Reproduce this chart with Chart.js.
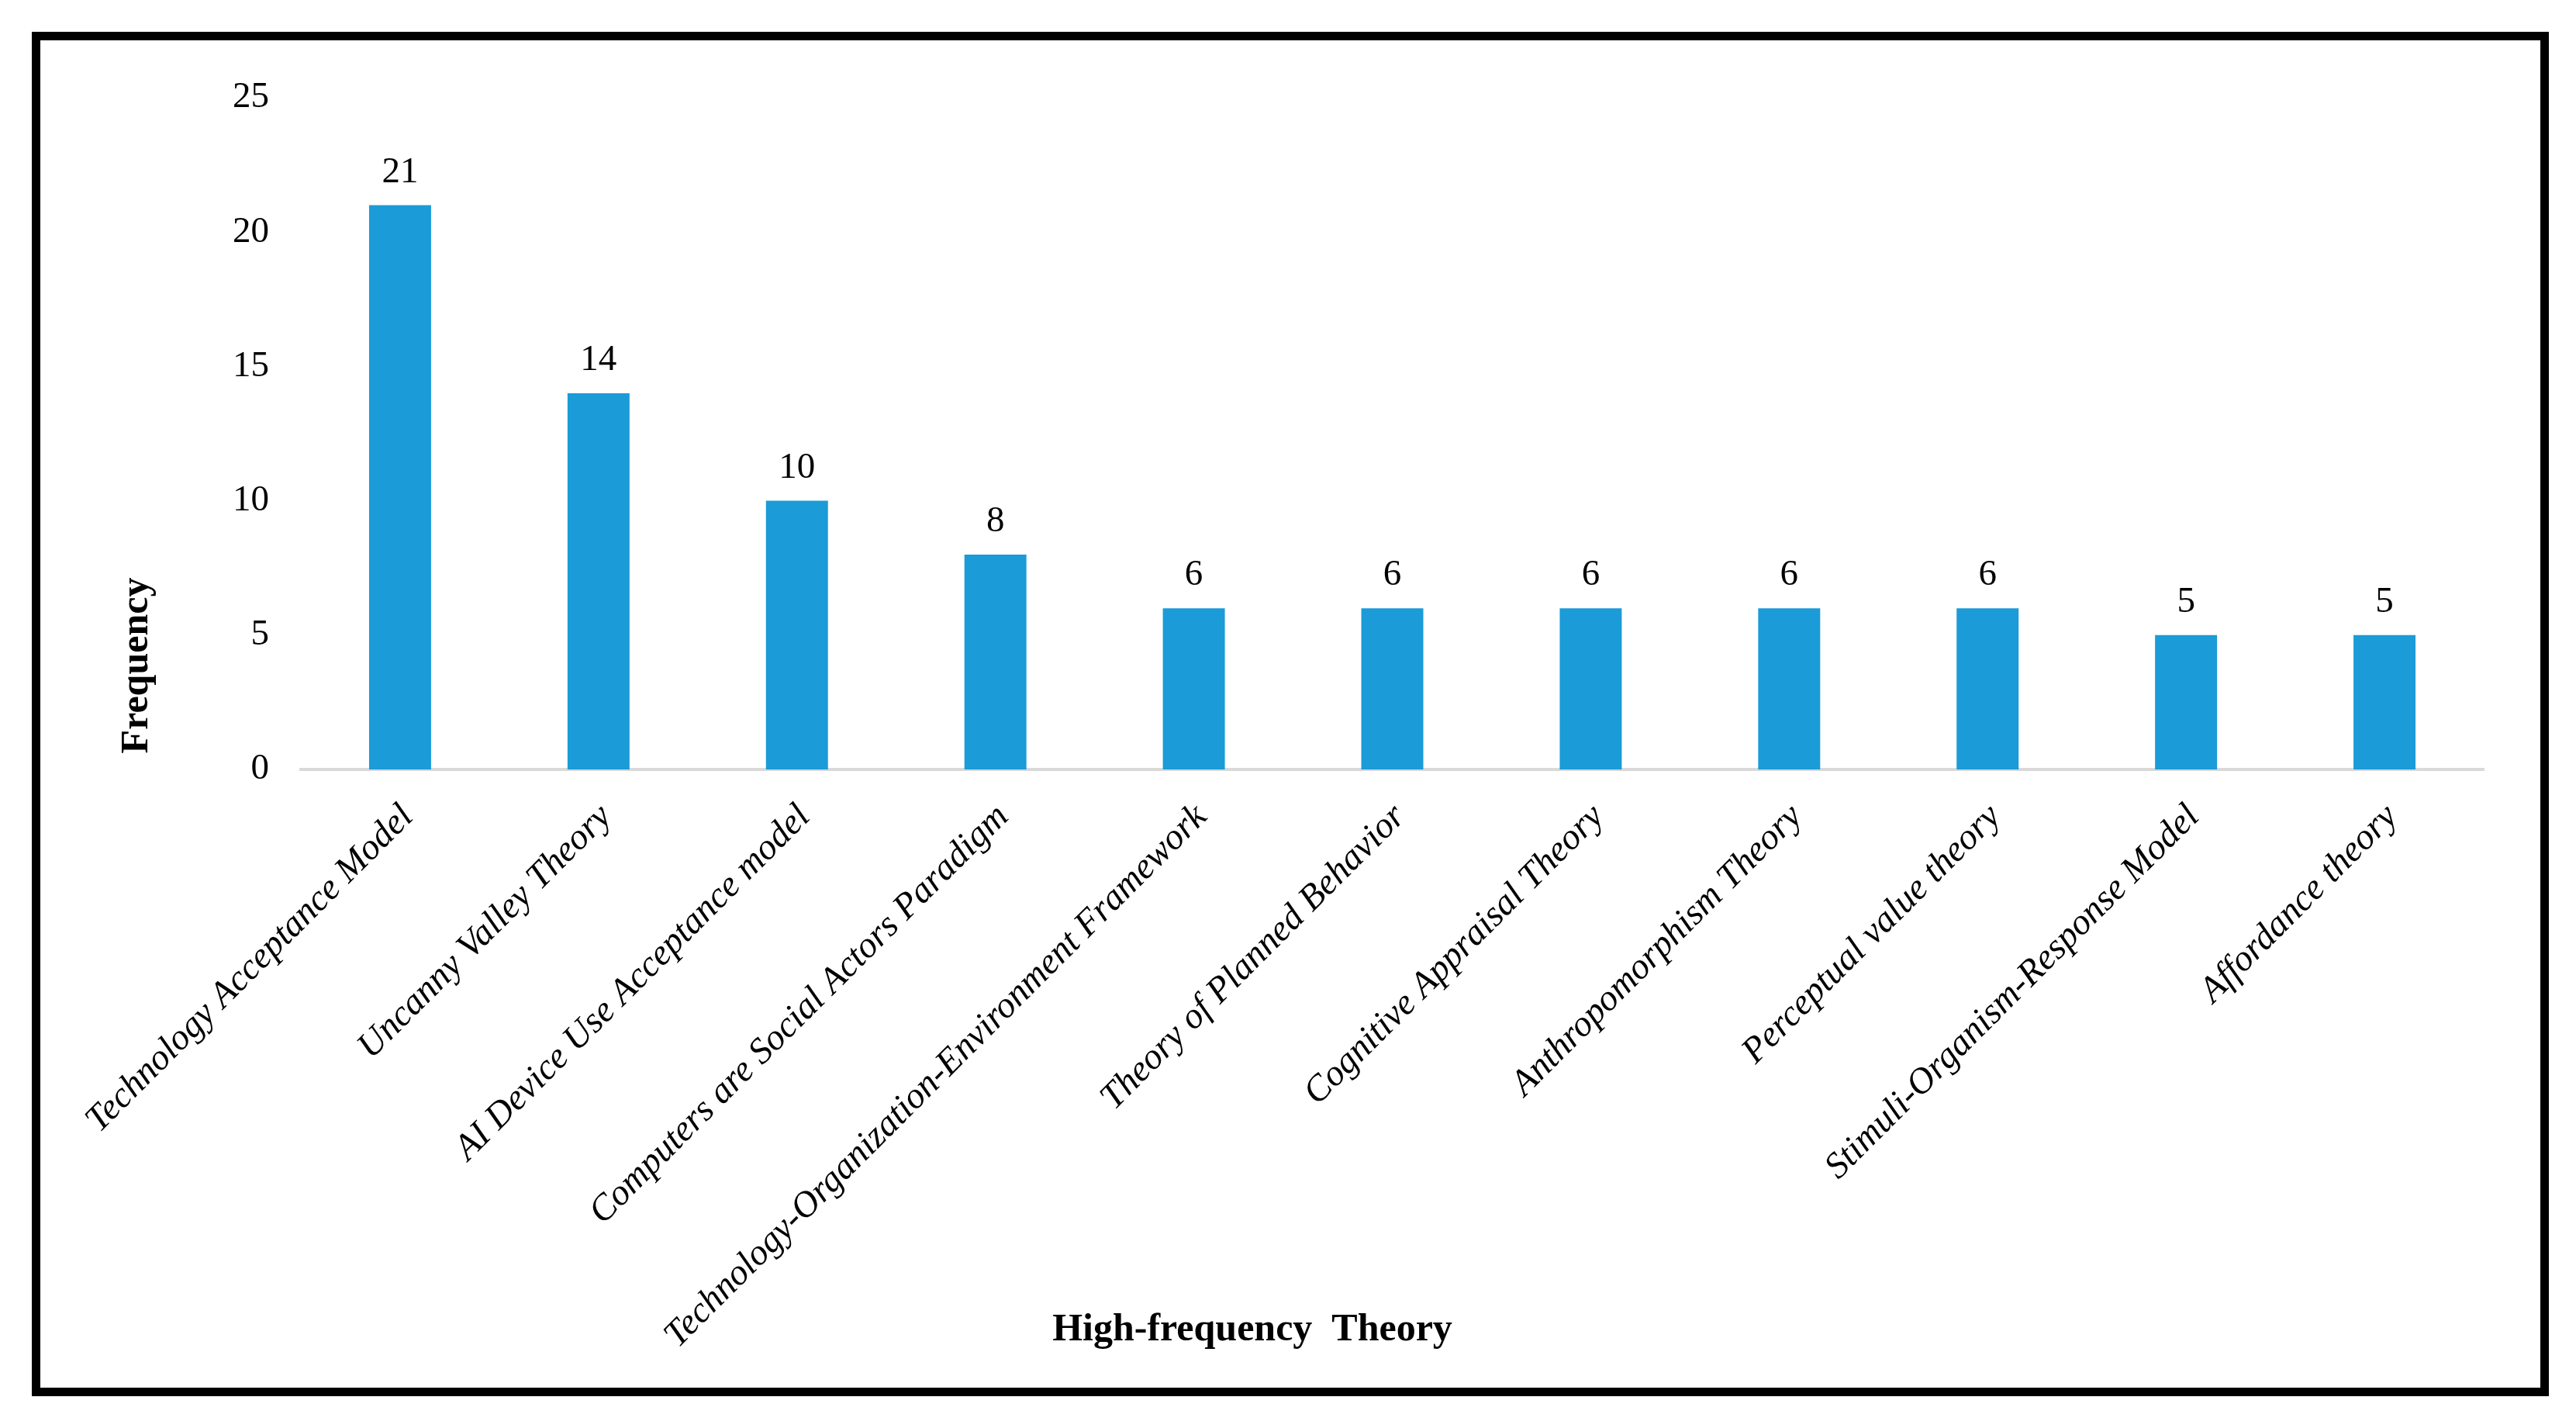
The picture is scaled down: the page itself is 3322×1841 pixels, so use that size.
<!DOCTYPE html>
<html>
<head>
<meta charset="utf-8">
<script src="https://cdn.jsdelivr.net/npm/chart.js@4.4.1/dist/chart.umd.min.js"></script>
<style>
  html, body { margin: 0; padding: 0; background: #fff; }
  #wrap { position: relative; width: 3322px; height: 1841px; }
  #doChart { position: absolute; left: 0; top: 0; }
  .frame {
    position: absolute; left: 41px; top: 41px; width: 3246px; height: 1759px;
    border: 11px solid #000; box-sizing: border-box; pointer-events: none;
  }
</style>
</head>
<body>
<div id="wrap">
  <canvas id="doChart" width="3322" height="1841"></canvas>
  <div class="frame"></div>
</div>
<script>
const theories = [
  "Technology Acceptance Model",
  "Uncanny Valley Theory",
  "AI Device Use Acceptance model",
  "Computers are Social Actors Paradigm",
  "Technology-Organization-Environment Framework",
  "Theory of Planned Behavior",
  "Cognitive Appraisal Theory",
  "Anthropomorphism Theory",
  "Perceptual value theory",
  "Stimuli-Organism-Response Model",
  "Affordance theory",
];
const frequency = [21, 14, 10, 8, 6, 6, 6, 6, 6, 5, 5];
const yTicks = [0, 5, 10, 15, 20, 25];

const serif = '"Liberation Serif", "Times New Roman", serif';
const barColor = "#1b9bd7";

// value labels over each bar
const valueLabels = {
  id: "valueLabels",
  afterDatasetsDraw(chart) {
    const ctx = chart.ctx;
    const meta = chart.getDatasetMeta(0);
    ctx.save();
    ctx.font = `47px ${serif}`;
    ctx.fillStyle = "#000";
    ctx.textAlign = "center";
    ctx.textBaseline = "alphabetic";
    meta.data.forEach((bar, i) => {
      ctx.fillText(String(frequency[i]), bar.x, bar.y - 30);
    });
    ctx.restore();
  },
};

// axis titles sit off-centre in the original, so draw them here
const axisTitles = {
  id: "axisTitles",
  afterDraw(chart) {
    const ctx = chart.ctx;
    ctx.save();
    ctx.font = `bold 50px ${serif}`;
    ctx.fillStyle = "#000";
    ctx.textAlign = "center";
    ctx.textBaseline = "alphabetic";
    ctx.fillText("High-frequency  Theory", 1615, 1728);
    ctx.translate(190, 858);
    ctx.rotate(-Math.PI / 2);
    ctx.fillText("Frequency", 0, 0);
    ctx.restore();
  },
};

const data = {
  labels: theories,
  datasets: [
    {
      label: "Frequency",
      data: frequency,
      backgroundColor: barColor,
      borderWidth: 0,
      categoryPercentage: 1,
      barPercentage: 0.3125,
    },
  ],
};

const config = {
  type: "bar",
  data,
  options: {
    responsive: false,
    animation: false,
    devicePixelRatio: 1,
    layout: { padding: { left: 0, top: 126, right: 119, bottom: 0 } },
    plugins: {
      legend: { display: false },
      tooltip: { enabled: false },
    },
    scales: {
      x: {
        grid: { display: false, drawTicks: false },
        border: { display: true, color: "#d9d9d9", width: 4 },
        ticks: {
          minRotation: 45,
          maxRotation: 45,
          autoSkip: false,
          padding: 34,
          labelOffset: 10,
          color: "#000",
          font: { family: serif, size: 47, style: "italic" },
        },
        afterFit: (s) => { s.height = 1841 - 992; },
      },
      y: {
        min: 0,
        max: 25,
        grid: { display: false, drawTicks: false },
        border: { display: false },
        afterBuildTicks: (s) => { s.ticks = yTicks.map((v) => ({ value: v })); },
        ticks: {
          padding: 41,
          color: "#000",
          font: { family: serif, size: 47 },
        },
        afterFit: (s) => { s.width = 388; },
      },
    },
  },
  plugins: [valueLabels, axisTitles],
};

const doChart = new Chart(document.querySelector("#doChart"), config);
</script>
</body>
</html>
